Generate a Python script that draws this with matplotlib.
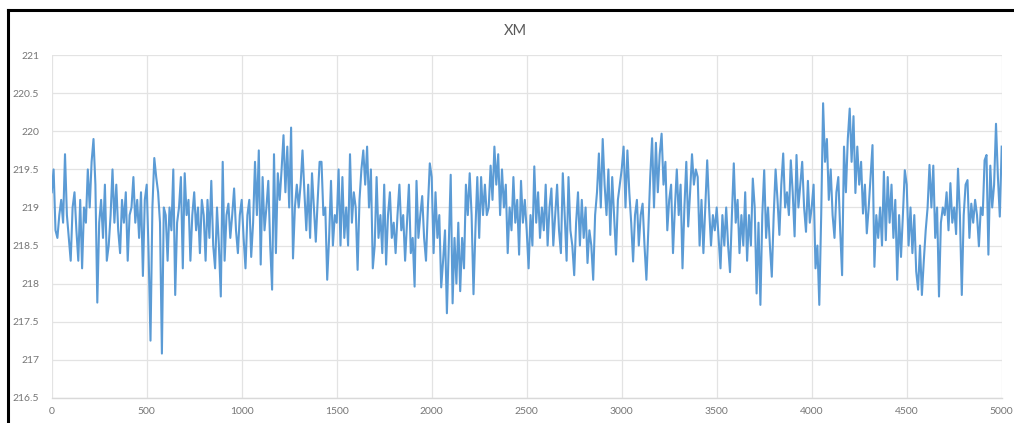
import matplotlib
matplotlib.use("Agg")
import matplotlib.pyplot as plt
from matplotlib.lines import Line2D
from matplotlib.ticker import FuncFormatter
import numpy as np

plt.rcParams["font.family"] = ["Lato", "DejaVu Sans"]

title = "XM"
x_start, x_step = 0, 10
x_ticks = [0, 500, 1000, 1500, 2000, 2500, 3000, 3500, 4000, 4500, 5000]
y_ticks = [216.5, 217, 217.5, 218, 218.5, 219, 219.5, 220, 220.5, 221]

# one row per 100 samples, sampled every 10
xm = [
    219.2, 219.5, 218.7, 218.6, 218.9, 219.1, 218.8, 219.7, 218.9, 218.6,
    218.3, 219.0, 219.2, 218.7, 218.3, 219.1, 218.2, 219.0, 218.8, 219.5,
    219.0, 219.6, 219.9, 219.3, 217.75, 218.8, 219.1, 218.6, 219.3, 218.3,
    218.5, 218.9, 219.5, 218.8, 219.3, 218.7, 218.4, 219.1, 218.8, 219.2,
    218.3, 218.9, 219.0, 219.4, 218.8, 219.1, 218.6, 219.2, 218.1, 219.1,
    219.3, 218.4, 217.25, 219.0, 219.65, 219.4, 219.2, 218.8, 217.08, 219.0,
    218.9, 218.3, 219.0, 218.7, 219.5, 217.85, 218.8, 219.0, 219.4, 218.2,
    219.45, 218.9, 219.1, 218.3, 218.9, 219.2, 218.7, 219.0, 218.4, 219.1,
    218.9, 218.3, 219.1, 218.6, 219.35, 218.5, 218.2, 219.0, 218.5, 217.83,
    219.6, 218.3, 218.9, 219.05, 218.6, 218.9, 219.25, 218.7, 218.4, 218.9,
    219.1, 218.6, 218.2, 218.9, 219.1, 218.35, 218.8, 219.6, 218.9, 219.75,
    218.25, 219.4, 218.7, 219.0, 219.35, 218.5, 217.92, 219.7, 218.4, 219.45,
    219.1, 219.5, 219.95, 219.2, 219.8, 219.0, 220.05, 218.33, 219.0, 219.3,
    219.0, 219.3, 219.75, 219.2, 218.7, 219.3, 218.6, 219.45, 219.0, 218.55,
    219.1, 219.6, 219.6, 218.9, 219.0, 218.05, 218.6, 219.35, 218.5, 218.9,
    218.8, 219.5, 218.5, 219.4, 218.6, 219.0, 218.5, 219.7, 218.8, 219.2,
    219.0, 218.18, 219.1, 219.5, 219.75, 219.3, 219.8, 219.0, 219.5, 218.2,
    218.5, 219.4, 218.6, 218.9, 218.4, 219.3, 218.25, 218.9, 219.2, 218.6,
    218.8, 218.4, 218.9, 219.3, 218.7, 218.9, 218.3, 218.8, 219.3, 218.4,
    218.6, 217.96, 219.35, 218.6, 218.9, 219.15, 218.6, 218.3, 219.0, 219.58,
    219.4, 218.4, 219.2, 218.6, 218.9, 217.95, 218.3, 218.7, 217.61, 218.5,
    219.43, 217.74, 218.6, 218.0, 218.8, 217.9, 218.6, 218.2, 219.3, 218.9,
    219.45, 218.9, 217.86, 218.7, 219.4, 218.6, 219.4, 218.9, 219.3, 218.9,
    219.0, 219.55, 219.1, 219.8, 219.3, 219.7, 218.9, 219.5, 219.0, 219.3,
    218.4, 219.0, 218.7, 219.4, 218.8, 219.1, 218.38, 219.35, 218.8, 219.1,
    218.7, 218.2, 218.9, 218.5, 219.54, 218.8, 219.2, 218.6, 219.0, 218.7,
    219.3, 218.5, 219.0, 219.25, 218.5, 218.9, 219.3, 218.7, 218.4, 219.45,
    218.9, 218.3, 219.4, 218.7, 218.5, 218.11, 218.8, 219.2, 218.5, 219.1,
    218.6, 219.0, 218.27, 218.7, 218.5, 218.05, 218.9, 219.2, 219.71, 219.0,
    219.9, 219.3, 218.9, 219.5, 218.64, 219.4, 218.9, 218.38, 219.1, 219.3,
    219.5, 219.8, 219.0, 219.75, 219.2, 218.8, 218.29, 218.9, 219.1, 218.5,
    218.9, 219.05, 218.5, 218.05, 218.7, 219.4, 219.91, 219.0, 219.85, 219.2,
    219.7, 219.97, 219.3, 219.6, 218.7, 219.1, 219.3, 218.4, 219.0, 219.5,
    218.9, 219.3, 218.2, 219.0, 219.6, 218.75, 219.2, 219.7, 219.3, 219.5,
    219.4, 218.5, 219.1, 218.4, 219.0, 219.62, 219.0, 218.5, 218.9, 218.7,
    219.0, 218.6, 218.2, 218.9, 218.5, 219.0, 218.5, 218.15, 218.9, 219.58,
    218.8, 219.1, 218.4, 218.9, 218.5, 219.2, 218.3, 218.9, 218.5, 219.38,
    219.0, 217.87, 218.8, 217.72, 218.9, 219.49, 218.6, 219.0, 218.5, 218.09,
    218.9, 219.5, 219.1, 218.64, 219.3, 219.71, 219.0, 219.2, 218.9, 219.62,
    219.2, 218.62, 219.69, 219.0, 219.3, 219.6, 219.0, 218.68, 219.35, 218.8,
    219.0, 219.3, 218.2, 218.5, 217.72, 218.9, 220.37, 219.6, 219.9, 219.1,
    219.5, 218.9, 218.6, 219.2, 219.4, 218.7, 218.11, 219.8, 219.2, 219.9,
    220.3, 219.6, 220.2, 219.19, 219.8, 219.3, 219.6, 218.92, 219.3, 218.66,
    219.0, 219.4, 219.82, 218.22, 218.9, 218.6, 219.0, 218.5, 219.47, 218.57,
    219.4, 218.8, 219.3, 218.6, 219.1, 218.05, 218.9, 218.35, 218.9, 219.49,
    219.3, 218.5, 219.0, 218.4, 218.9, 218.16, 217.92, 218.5, 217.85, 218.3,
    218.7, 219.0, 219.56, 219.0, 219.55, 218.6, 219.0, 217.83, 218.8, 219.0,
    218.9, 219.2, 218.7, 219.32, 218.8, 219.0, 218.65, 219.51, 218.9, 217.85,
    218.9, 219.3, 219.36, 218.6, 219.05, 218.8, 219.1, 218.9, 218.49, 219.0,
    218.9, 219.62, 219.69, 218.38, 219.55, 219.0, 219.3, 220.1, 219.4, 218.88,
    219.8,
]

W, H = 1014, 423
fig = plt.figure(figsize=(W / 100, H / 100), dpi=100)
fig.patch.set_facecolor("white")

# plot area in pixel coordinates
left_px, right_px, top_px, bottom_px = 51.7, 1001.7, 55.3, 397.7
ax = fig.add_axes([left_px / W, 1 - bottom_px / H,
                   (right_px - left_px) / W, (bottom_px - top_px) / H])

xs = x_start + x_step * np.arange(len(xm))
ax.plot(xs, xm, color="#5B9BD5", linewidth=1.5, solid_joinstyle="round", zorder=3)

ax.set_xlim(0, 5000)
ax.set_ylim(216.5, 221)
ax.set_xticks(x_ticks)
ax.set_yticks(y_ticks)
ax.yaxis.set_major_formatter(FuncFormatter(lambda v, p: f"{v:g}"))
ax.xaxis.set_major_formatter(FuncFormatter(lambda v, p: f"{v:g}"))

grid_color = "#E3E3E3"
ax.grid(True, color=grid_color, linewidth=0.9, zorder=0)
ax.set_axisbelow(True)
for side in ["top", "right", "left"]:
    ax.spines[side].set_visible(False)
ax.spines["bottom"].set_color("#D9D9D9")
ax.spines["bottom"].set_linewidth(1.0)
ax.tick_params(axis="both", length=0, labelsize=7.5, colors="#767676")
ax.tick_params(axis="y", pad=9)
ax.tick_params(axis="x", pad=7)

fig.text(515 / W, 1 - 31 / H, title, ha="center", va="center",
         fontsize=10.5, color="#595959")

# outer frame on the top and left edges
fig.add_artist(Line2D([7.5 / W, 7.5 / W], [0, 1 - 10.5 / H],
                      transform=fig.transFigure, color="black", linewidth=2.2))
fig.add_artist(Line2D([7.5 / W, 1], [1 - 10.5 / H, 1 - 10.5 / H],
                      transform=fig.transFigure, color="black", linewidth=2.2))

fig.savefig("out.png", dpi=100, facecolor="white")
